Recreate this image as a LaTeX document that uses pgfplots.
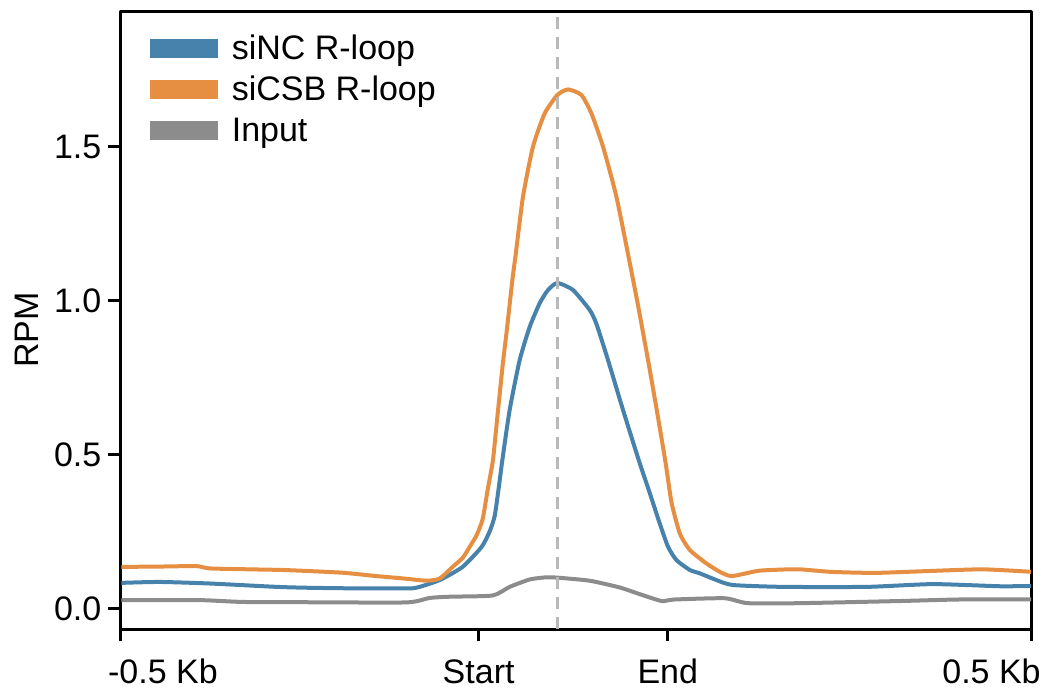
\documentclass[border=0pt]{standalone}
\usepackage{fontspec}
\setmainfont{Liberation Sans}
\usepackage{pgfplots}
\pgfplotsset{compat=1.18}
\definecolor{cblue}{RGB}{70,130,172}
\definecolor{corange}{RGB}{230,142,66}
\definecolor{cgray}{RGB}{140,140,140}
\definecolor{cdash}{RGB}{185,185,185}
\begin{document}
\begin{tikzpicture}
\begin{axis}[name=ax, scale only axis, width=455.3pt, height=309pt,
  xmin=121, xmax=1031, ymin=-0.067, ymax=1.942,
  xtick={121,479,668,1031},
  xticklabels={\hspace*{42.5pt}-0.5 Kb, Start, End, 0.5 Kb\hspace*{39.5pt}},
  ytick={0,0.5,1,1.5}, yticklabels={0.0,0.5,1.0,1.5},
  tick pos=left, tick align=outside, major tick length=6pt,
  every tick/.style={black, line width=1.5pt},
  axis line style={line width=1.5pt},
  tick label style={font=\fontsize{17}{20}\selectfont},
  xticklabel style={anchor=base, yshift=-21pt},
  ylabel={RPM},
  every axis y label/.style={at={(axis description cs:-0.1033,0.484)}, rotate=90, anchor=center, font=\fontsize{17}{20}\selectfont},
  legend cell align=left,
  legend style={at={(axis description cs:0,1)}, anchor=north west, xshift=7pt, yshift=-7.5pt, draw=none, fill=none,
    font=\fontsize{17}{20}\selectfont, row sep=3pt},
  legend image code/.code={\draw[#1, line width=9.5pt] (0pt,0pt) -- (34pt,0pt);},
  line join=round,
]
\addplot[cblue, line width=2pt, smooth, tension=0.35] coordinates {
(122,0.083) (160,0.086) (210,0.081) (277,0.070) (310,0.067) (360,0.065) (410,0.065) (420,0.070) (440,0.092) (463,0.135) (482,0.200) (490,0.250) (495,0.300) (499,0.390) (502.7,0.482) (510,0.645) (520,0.807) (530,0.915) (540,0.992) (548.3,1.035) (557.7,1.058) (573.3,1.035) (590,0.970) (596.7,0.925) (608.3,0.807) (623.3,0.645) (639,0.482) (650,0.375) (660,0.276) (668.3,0.200) (676.7,0.157) (690,0.125) (700,0.114) (716.7,0.092) (733,0.076) (783,0.070) (867,0.070) (933,0.079) (1000,0.072) (1031,0.073)};
\addlegendentry{siNC R-loop}
\addplot[corange, line width=2pt, smooth, tension=0.35] coordinates {
(122,0.135) (160,0.136) (197,0.1375) (210,0.130) (250,0.127) (287,0.1245) (343,0.116) (377,0.105) (405,0.097) (427,0.090) (440,0.097) (453,0.135) (463,0.164) (470,0.200) (477,0.238) (483,0.290) (488,0.385) (493.3,0.482) (497,0.600) (503,0.790) (507,0.900) (512.7,1.067) (516,1.150) (523.3,1.338) (533.3,1.501) (545,1.609) (557.7,1.669) (568.3,1.687) (581.7,1.669) (591.7,1.609) (603.3,1.501) (616.7,1.338) (629.3,1.135) (638,0.990) (648.3,0.807) (657,0.645) (666,0.470) (671.7,0.345) (680,0.244) (690,0.190) (706.7,0.146) (720,0.119) (732,0.105) (758,0.122) (780,0.126) (800,0.127) (830,0.119) (860,0.116) (883,0.116) (933,0.122) (983,0.127) (1031,0.119)};
\addlegendentry{siCSB R-loop}
\addplot[cgray, line width=2pt, smooth, tension=0.35] coordinates {
(122,0.027) (200,0.027) (243,0.021) (310,0.020) (407,0.0195) (430,0.034) (450,0.038) (493,0.042) (510,0.070) (530,0.094) (546,0.101) (557.7,0.100) (590,0.090) (620,0.068) (643,0.043) (662,0.024) (675,0.029) (725,0.033) (748,0.017) (800,0.017) (900,0.024) (960,0.029) (1031,0.029)};
\addlegendentry{Input}
\addplot[cdash, line width=1.3pt, dash pattern=on 6pt off 4pt, forget plot] coordinates {(557.7,-0.067) (557.7,1.942)};
\end{axis}
\pgfresetboundingbox
\path ([shift={(-60.2pt,-31.5pt)}]ax.south west) rectangle ([shift={(12pt,5.5pt)}]ax.north east);
\end{tikzpicture}
\end{document}
